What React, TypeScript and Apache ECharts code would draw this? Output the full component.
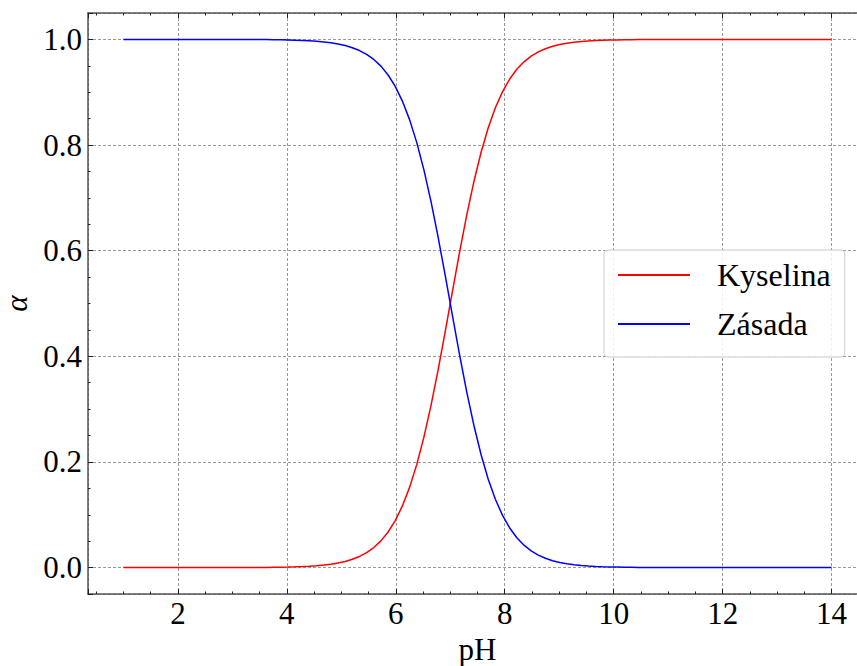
import React, { useEffect, useRef } from "react";
import * as echarts from "echarts";

const pH = [
  1.0, 1.131, 1.263, 1.394, 1.525, 1.657, 1.788, 1.919, 2.051, 2.182,
  2.313, 2.444, 2.576, 2.707, 2.838, 2.97, 3.101, 3.232, 3.364, 3.495,
  3.626, 3.758, 3.889, 4.02, 4.152, 4.283, 4.414, 4.545, 4.677, 4.808,
  4.939, 5.071, 5.202, 5.333, 5.465, 5.596, 5.727, 5.859, 5.99, 6.121,
  6.253, 6.384, 6.515, 6.646, 6.778, 6.909, 7.04, 7.172, 7.303, 7.434,
  7.566, 7.697, 7.828, 7.96, 8.091, 8.222, 8.354, 8.485, 8.616, 8.747,
  8.879, 9.01, 9.141, 9.273, 9.404, 9.535, 9.667, 9.798, 9.929, 10.061,
  10.192, 10.323, 10.455, 10.586, 10.717, 10.848, 10.98, 11.111, 11.242, 11.374,
  11.505, 11.636, 11.768, 11.899, 12.03, 12.162, 12.293, 12.424, 12.556, 12.687,
  12.818, 12.949, 13.081, 13.212, 13.343, 13.475, 13.606, 13.737, 13.869, 14.0,
];

const kyselina = [
  0, 0, 0, 0, 0, 0, 0, 0, 0, 0,
  0, 0, 0, 0.0001, 0.0001, 0.0001, 0.0001, 0.0002, 0.0002, 0.0003,
  0.0004, 0.0006, 0.0008, 0.001, 0.0014, 0.0019, 0.0026, 0.0035, 0.0047, 0.0064,
  0.0086, 0.0116, 0.0157, 0.0211, 0.0283, 0.038, 0.0506, 0.0674, 0.089, 0.1167,
  0.1519, 0.1949, 0.2466, 0.3068, 0.375, 0.4478, 0.523, 0.5977, 0.6677, 0.7309,
  0.7864, 0.8327, 0.8706, 0.9012, 0.925, 0.9434, 0.9576, 0.9683, 0.9764, 0.9824,
  0.987, 0.9903, 0.9928, 0.9947, 0.9961, 0.9971, 0.9979, 0.9984, 0.9988, 0.9991,
  0.9994, 0.9995, 0.9997, 0.9997, 0.9998, 0.9999, 0.9999, 0.9999, 0.9999, 1,
  1, 1, 1, 1, 1, 1, 1, 1, 1, 1,
  1, 1, 1, 1, 1, 1, 1, 1, 1, 1,
];

const zasada = [
  1, 1, 1, 1, 1, 1, 1, 1, 1, 1,
  1, 1, 1, 0.9999, 0.9999, 0.9999, 0.9999, 0.9998, 0.9998, 0.9997,
  0.9996, 0.9994, 0.9992, 0.999, 0.9986, 0.9981, 0.9974, 0.9965, 0.9953, 0.9936,
  0.9914, 0.9884, 0.9843, 0.9789, 0.9717, 0.962, 0.9494, 0.9326, 0.911, 0.8833,
  0.8481, 0.8051, 0.7534, 0.6932, 0.625, 0.5522, 0.477, 0.4023, 0.3323, 0.2691,
  0.2136, 0.1673, 0.1294, 0.0988, 0.075, 0.0566, 0.0424, 0.0317, 0.0236, 0.0176,
  0.013, 0.0097, 0.0072, 0.0053, 0.0039, 0.0029, 0.0021, 0.0016, 0.0012, 0.0009,
  0.0006, 0.0005, 0.0003, 0.0003, 0.0002, 0.0001, 0.0001, 0.0001, 0.0001, 0,
  0, 0, 0, 0, 0, 0, 0, 0, 0, 0,
  0, 0, 0, 0, 0, 0, 0, 0, 0, 0,
];

const seriesNames = ["Kyselina", "Zásada"];
const xLabel = "pH";
const yLabel = "α";

const FONT = "'Liberation Serif', 'DejaVu Serif', serif";

export default function App() {
  const ref = useRef<HTMLDivElement>(null);

  useEffect(() => {
    document.body.style.margin = "0";
    if (!ref.current) return;
    const chart = echarts.init(ref.current, undefined, { renderer: "svg" });

    const X_MIN = 0.35;
    const X_MAX = 14.65;
    const Y_MIN = -0.05;
    const Y_MAX = 1.05;

    const axisLineStyle = { color: "#555", width: 1.5 };
    const tickStyle = { color: "#222", width: 1 };
    const splitStyle = { color: "#9a9a9a", type: [3, 2] as any, width: 1 };

    const xFmt = (v: number) => {
      const r = Math.round(v);
      return Math.abs(v - r) < 1e-6 && r % 2 === 0 ? String(r) : "";
    };
    const yFmt = (v: number) => {
      const k = v * 5;
      return Math.abs(k - Math.round(k)) < 1e-6 && v > -1e-6 ? v.toFixed(1) : "";
    };

    const majorX = (position: string, main: boolean) => ({
      type: "value",
      position,
      min: X_MIN,
      max: X_MAX,
      minInterval: 2,
      maxInterval: 2,
      splitNumber: 7,
      ...(main
        ? {
            name: xLabel,
            nameLocation: "middle",
            nameGap: 43,
            nameTextStyle: { fontSize: 31, fontFamily: FONT, color: "#000", lineHeight: 22 },
          }
        : {}),
      axisLine: { show: true, onZero: false, lineStyle: axisLineStyle },
      axisTick: { show: true, inside: true, length: 5, lineStyle: tickStyle },
      axisLabel: {
        show: main,
        formatter: xFmt,
        fontSize: 31,
        fontFamily: FONT,
        color: "#000",
        margin: 4,
      },
      splitLine: { show: main, lineStyle: splitStyle },
      minorTick: { show: false },
    });
    const minorX = (position: string) => ({
      type: "value",
      position,
      min: X_MIN,
      max: X_MAX,
      minInterval: 0.5,
      maxInterval: 0.5,
      splitNumber: 28,
      axisLine: { show: false, onZero: false },
      axisTick: { show: true, inside: true, length: 2.5, lineStyle: tickStyle },
      axisLabel: { show: false },
      splitLine: { show: false },
    });
    const majorY = (position: string, main: boolean) => ({
      type: "value",
      position,
      min: Y_MIN,
      max: Y_MAX,
      minInterval: 0.2,
      maxInterval: 0.2,
      splitNumber: 5,
      ...(main
        ? {
            name: yLabel,
            nameLocation: "middle",
            nameGap: 52,
            nameRotate: 90,
            nameTextStyle: { fontSize: 31, fontFamily: FONT, color: "#000", fontStyle: "italic" },
          }
        : {}),
      axisLine: { show: true, onZero: false, lineStyle: axisLineStyle },
      axisTick: { show: true, inside: true, length: 5, lineStyle: tickStyle },
      axisLabel: {
        show: main,
        formatter: yFmt,
        fontSize: 31,
        fontFamily: FONT,
        color: "#000",
        margin: 6,
      },
      splitLine: { show: main, lineStyle: splitStyle },
      minorTick: { show: false },
    });
    const minorY = (position: string) => ({
      type: "value",
      position,
      min: Y_MIN,
      max: Y_MAX,
      minInterval: 0.05,
      maxInterval: 0.05,
      splitNumber: 22,
      axisLine: { show: false, onZero: false },
      axisTick: { show: true, inside: true, length: 2.5, lineStyle: tickStyle },
      axisLabel: { show: false },
      splitLine: { show: false },
    });

    const option: any = {
      animation: false,
      grid: {
        left: 88,
        top: 13,
        width: 779,
        height: 581,
        containLabel: false,
        outerBoundsMode: "none",
      },
      xAxis: [majorX("bottom", true), minorX("bottom"), majorX("top", false), minorX("top")],
      yAxis: [majorY("left", true), minorY("left")],
      legend: {
        left: 604,
        top: 250,
        orient: "vertical",
        padding: [7, 14, 15, 13],
        itemWidth: 72,
        itemHeight: 2,
        itemGap: 13,
        backgroundColor: "rgba(255,255,255,0.85)",
        borderColor: "#cccccc",
        borderWidth: 1,
        borderRadius: 4,
        itemStyle: { borderWidth: 0 },
        textStyle: {
          fontSize: 32,
          fontFamily: FONT,
          color: "#000",
          lineHeight: 36,
          padding: [0, 0, 0, 22],
        },
        data: seriesNames,
      },
      series: [
        {
          name: seriesNames[0],
          type: "line",
          xAxisIndex: 0,
          yAxisIndex: 0,
          data: pH.map((x, i) => [x, kyselina[i]]),
          showSymbol: false,
          symbol: "none",
          color: "#ff0000",
          lineStyle: { color: "#ff0000", width: 1.5 },
        },
        {
          name: seriesNames[1],
          type: "line",
          xAxisIndex: 0,
          yAxisIndex: 0,
          data: pH.map((x, i) => [x, zasada[i]]),
          showSymbol: false,
          symbol: "none",
          color: "#0000ff",
          lineStyle: { color: "#0000ff", width: 1.5 },
        },
      ],
    };

    chart.setOption(option);
    return () => chart.dispose();
  }, []);

  return <div ref={ref} style={{ width: 857, height: 666 }} />;
}
